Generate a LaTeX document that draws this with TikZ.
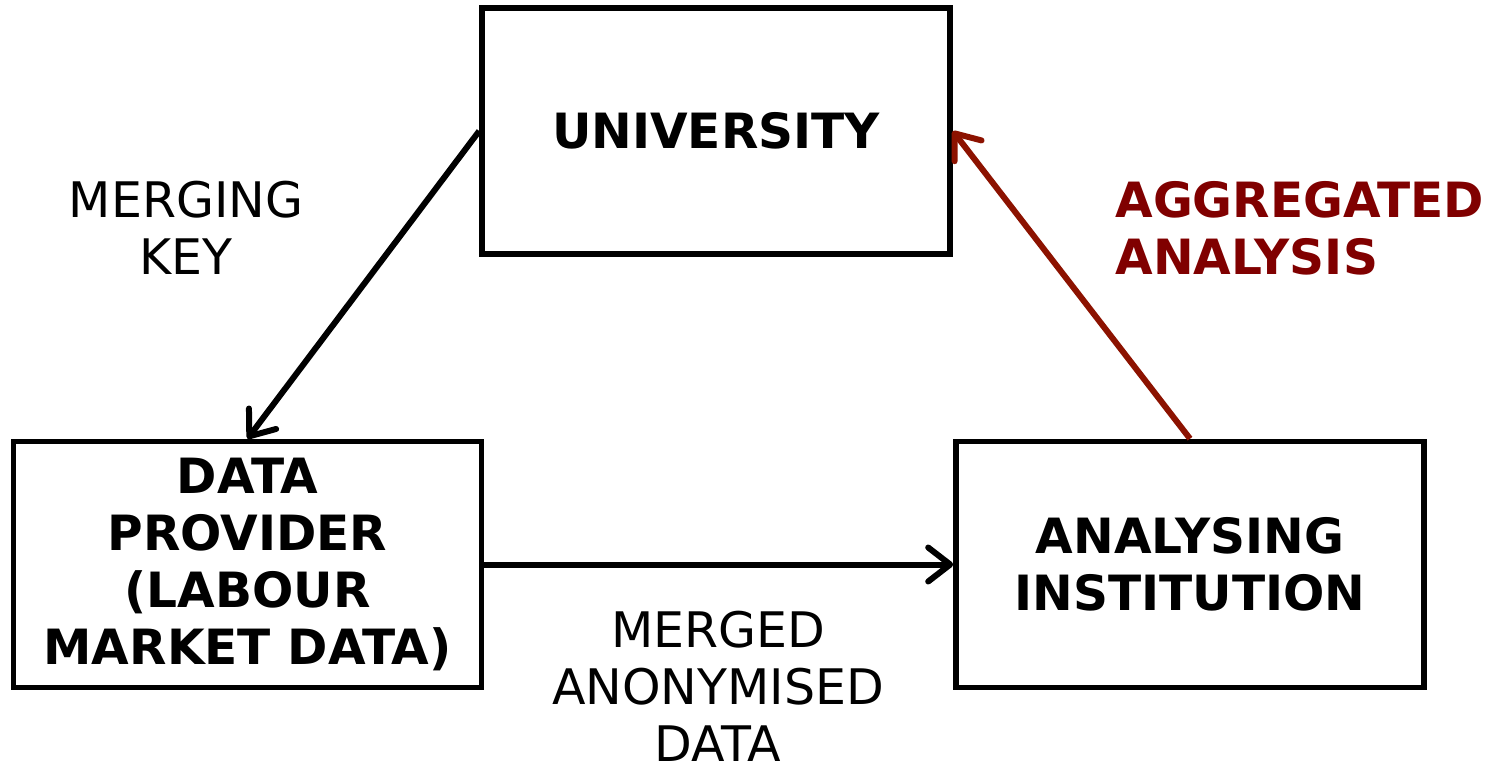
\documentclass[tikz,border=0pt]{standalone}
\usepackage{fontspec}
\setmainfont{DejaVu Sans}
\usetikzlibrary{arrows.meta}
\definecolor{darkred}{RGB}{128,0,0}
\definecolor{arrowred}{RGB}{140,18,0}

\begin{document}
\begin{tikzpicture}[
	x=0.5pt, y=-0.5pt,
	box/.style={draw, line width=2.8pt, minimum width=234pt, minimum height=123pt, align=center, font=\fontsize{24.3}{28.5}\selectfont\bfseries},
	lbl/.style={inner sep=0pt, font=\fontsize{24.5}{28.5}\selectfont},
	flow/.style={line width=3pt, -{Straight Barb[round, length=11pt, width=17pt]}}
	]
	
	\useasboundingbox (0, 0) rectangle (1489, 767);
	\node (uni) at (716, 131) [box] {UNIVERSITY};
	\node (prov) at (247.5, 564.5) [box] {DATA\\PROVIDER\\(LABOUR\\MARKET DATA)};
	\node (inst) at (1190, 564.5) [box] {ANALYSING\\INSTITUTION};
	
	\draw [flow] (uni.west) -- (prov.north);
	\draw [flow] (prov.east) -- (inst.west);
	\draw [flow, color = arrowred] (inst.north) -- (uni.east);
	
	\node (key) at (186, 228) [lbl, align=center] {MERGING\\KEY};
	\node (merged) at (718, 686) [lbl, align=center] {MERGED\\ANONYMISED\\DATA};
	\node (aggr) at (1115, 228) [lbl, anchor=west, align=left, text = darkred, font=\fontsize{24.3}{28.5}\selectfont\bfseries] {AGGREGATED\\ANALYSIS};
\end{tikzpicture}
\end{document}
